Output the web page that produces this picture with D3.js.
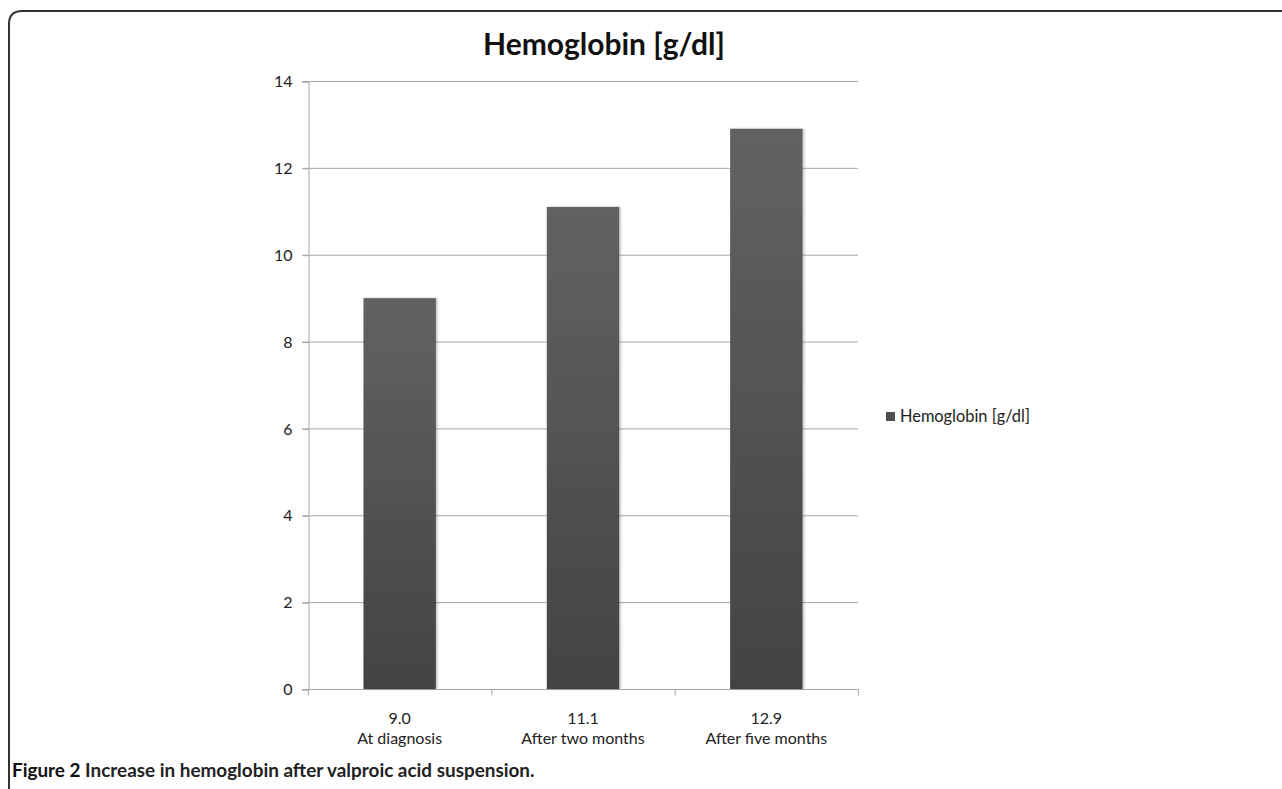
<!DOCTYPE html>
<html><head><meta charset="utf-8">
<script src="https://cdn.jsdelivr.net/npm/d3@7"></script>
<style>body{margin:0;background:#fff}svg{display:block}</style>
</head><body>
<script>
const categories = ["At diagnosis", "After two months", "After five months"];
const valueLabels = ["9.0", "11.1", "12.9"];
const values = [9.0, 11.1, 12.9];
const yTicks = [0, 2, 4, 6, 8, 10, 12, 14];
const seriesName = "Hemoglobin [g/dl]";
const chartTitle = "Hemoglobin [g/dl]";
const caption = ["Figure 2", " Increase in hemoglobin after valproic acid suspension."];

const W = 1282, H = 789;
const FONT = "Lato, 'Open Sans', sans-serif";
const svg = d3.select("body").append("svg").attr("width", W).attr("height", H);

function fit(sel, target) {
  const n = sel.node();
  const fs = parseFloat(sel.attr("font-size"));
  const w = n.getComputedTextLength();
  if (w > 0) sel.attr("font-size", fs * target / w);
  return sel;
}

const defs = svg.append("defs");
const grad = defs.append("linearGradient").attr("id", "barGrad").attr("x1", 0).attr("y1", 0).attr("x2", 0).attr("y2", 1);
grad.append("stop").attr("offset", "0%").attr("stop-color", "#626262");
grad.append("stop").attr("offset", "100%").attr("stop-color", "#434343");
const filt = defs.append("filter").attr("id", "shadow").attr("x", "-10%").attr("y", "-5%").attr("width", "130%").attr("height", "115%");
filt.append("feDropShadow").attr("dx", 1.5).attr("dy", 0).attr("stdDeviation", 1.2).attr("flood-color", "#000").attr("flood-opacity", 0.25);

// frame
svg.append("path")
  .attr("d", `M ${W + 5} 11 L 22 11 Q 9 11 9 24 L 9 ${H + 5}`)
  .attr("fill", "none").attr("stroke", "#333").attr("stroke-width", 2);

const x0 = 308, x1 = 858, yTop = 81, yBot = 689;
const x = d3.scaleBand().domain(categories).range([x0, x1]).paddingInner(0).paddingOuter(0);
const y = d3.scaleLinear().domain([0, 14]).range([yBot, yTop]);

// gridlines
svg.append("g").selectAll("line").data(yTicks).join("line")
  .attr("x1", x0 - 6).attr("x2", x1)
  .attr("y1", d => y(d) + 0.5).attr("y2", d => y(d) + 0.5)
  .attr("stroke", "#a6a6a6").attr("stroke-width", 1);

// y axis
const yAxis = svg.append("g").attr("transform", `translate(${x0 + 0.5},0.5)`)
  .call(d3.axisLeft(y).tickValues(yTicks).tickSize(6).tickPadding(10).tickFormat(d3.format("d")));
yAxis.select(".domain").attr("stroke", "#a6a6a6");
yAxis.selectAll(".tick line").attr("stroke", "#a6a6a6");
yAxis.selectAll(".tick text").attr("font-family", FONT).attr("font-size", 16).attr("fill", "#222");

// x axis
const xAxis = svg.append("g").attr("transform", `translate(0,${yBot + 0.5})`);
xAxis.append("line").attr("x1", x0).attr("x2", x1).attr("stroke", "#a6a6a6");
const bounds = categories.map(c => x(c)).concat([x1]);
xAxis.selectAll("line.tk").data(bounds).join("line").attr("class", "tk")
  .attr("x1", d => d + 0.5).attr("x2", d => d + 0.5).attr("y1", 0).attr("y2", 6).attr("stroke", "#a6a6a6");

// bars
const bw = x.bandwidth() * 0.395;
svg.append("g").selectAll("rect").data(values).join("rect")
  .attr("x", (d, i) => x(categories[i]) + (x.bandwidth() - bw) / 2)
  .attr("width", bw)
  .attr("y", d => y(d))
  .attr("height", d => y(0) - y(d))
  .attr("fill", "url(#barGrad)")
  .attr("filter", "url(#shadow)");

// category labels
const lab = svg.append("g");
categories.forEach((c, i) => {
  const cx = x(c) + x.bandwidth() / 2;
  lab.append("text").attr("x", cx).attr("y", 724).attr("text-anchor", "middle")
    .attr("font-family", FONT).attr("font-size", 16).attr("fill", "#222").text(valueLabels[i]);
  lab.append("text").attr("x", cx).attr("y", 744).attr("text-anchor", "middle")
    .attr("font-family", FONT).attr("font-size", 16).attr("fill", "#222").text(c);
});

// title
fit(svg.append("text").attr("x", 604).attr("y", 55).attr("text-anchor", "middle")
  .attr("font-family", FONT).attr("font-weight", "bold").attr("font-size", 27).attr("fill", "#111")
  .text(chartTitle), 242);

// legend
svg.append("rect").attr("x", 886).attr("y", 412).attr("width", 9).attr("height", 9).attr("fill", "#4f4f4f");
fit(svg.append("text").attr("x", 900).attr("y", 422)
  .attr("font-family", FONT).attr("font-size", 14.5).attr("fill", "#222").text(seriesName), 130);

// caption
const cap = svg.append("text").attr("x", 12).attr("y", 777)
  .attr("font-family", FONT).attr("font-weight", "bold").attr("font-size", 16.5).attr("fill", "#111");
cap.append("tspan").text(caption[0]);
cap.append("tspan").attr("fill", "#222").text(caption[1]);
fit(cap, 523);
</script>
</body></html>
